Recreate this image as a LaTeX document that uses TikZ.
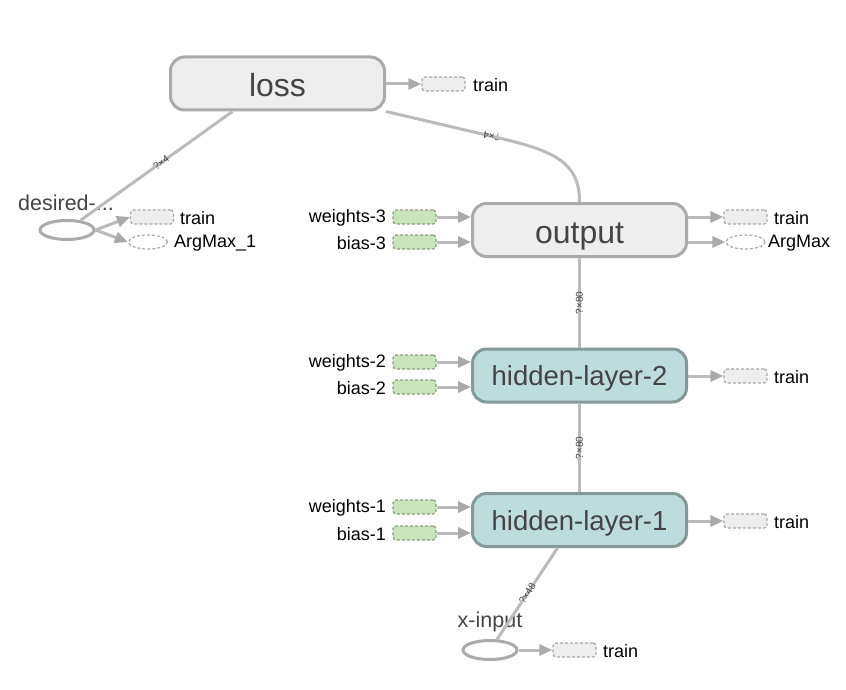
\documentclass[tikz,border=0pt]{standalone}
\usepackage{fontspec}
\setmainfont{Liberation Sans}
\usetikzlibrary{arrows.meta,shapes.geometric,calc}
\definecolor{boxfill}{HTML}{EEEEEE}
\definecolor{boxline}{HTML}{AAAAAA}
\definecolor{hlfill}{HTML}{BDDCDC}
\definecolor{hlline}{HTML}{859999}
\definecolor{greenfill}{HTML}{C9E4BA}
\definecolor{greenline}{HTML}{8C9C80}
\definecolor{dashgray}{HTML}{A8A8A8}
\definecolor{edgegray}{HTML}{BBBBBB}
\definecolor{tipgray}{HTML}{AAAAAA}
\definecolor{txt}{HTML}{444444}
\begin{document}
\begin{tikzpicture}[x=1pt,y=-1pt,
  opbox/.style={draw=boxline, fill=boxfill, line width=3pt, rounded corners=14pt,
    minimum width=214pt, minimum height=53pt, inner sep=0pt, text=txt,
    text height=29pt, text depth=2pt,
    font=\fontsize{32}{36}\selectfont},
  hlbox/.style={opbox, draw=hlline, fill=hlfill, text height=23pt, text depth=3pt,
    font=\fontsize{27.5}{31}\selectfont},
  smallbox/.style={draw=dashgray, dash pattern=on 3pt off 2pt, fill=boxfill,
    rounded corners=3pt, minimum width=43pt, minimum height=14pt, inner sep=0pt,
    line width=1.2pt},
  greenbox/.style={smallbox, fill=greenfill, draw=greenline},
  smallell/.style={ellipse, draw=dashgray, dash pattern=on 3pt off 2pt,
    minimum width=39pt, minimum height=14pt, inner sep=0pt, line width=1.2pt},
  placeholder/.style={ellipse, draw=boxline, line width=3pt, minimum width=54pt,
    minimum height=19pt, inner sep=0pt},
  lbl/.style={font=\fontsize{18}{21}\selectfont, text=black, inner sep=0pt},
  biglbl/.style={font=\fontsize{21.5}{24}\selectfont, text=txt, inner sep=0pt},
  edge/.style={draw=edgegray, line width=3pt},
  arr/.style={edge, -{Triangle[length=13pt,width=11pt,color=tipgray]}},
  elabel/.style={font=\fontsize{10}{11}\selectfont, text=txt, inner sep=0.5pt}
]
\useasboundingbox (0,0) rectangle (846,690);

% main operation nodes
\node[opbox] (loss) at (277.5,83.5) {loss};
\node[opbox] (output) at (579.5,230) {output};
\node[hlbox] (hl2) at (579.5,375.5) {hidden-layer-2};
\node[hlbox] (hl1) at (579.5,520) {hidden-layer-1};

% placeholders
\node[placeholder] (desired) at (67,230) {};
\node[biglbl] (desiredlbl) at (66,203) {desired-...};
\node[placeholder] (xin) at (490,650) {};
\node[biglbl] (xinlbl) at (490,622) {x-input};

% small auxiliary nodes
\node[smallbox] (ltrain) at (443.5,84) {};
\node[lbl, anchor=west] (ltrainlbl) at (473,85) {train};

\node[smallbox] (dtrain) at (152,217) {};
\node[lbl, anchor=west] (dtrainlbl) at (180,218) {train};
\node[smallell] (dargmax) at (148,242) {};
\node[lbl, anchor=west] (dargmaxlbl) at (174,243) {ArgMax\_1};

\node[smallbox] (otrain) at (745.5,217) {};
\node[lbl, anchor=west] (otrainlbl) at (774,218) {train};
\node[smallell] (oargmax) at (745.5,242) {};
\node[lbl, anchor=west] (oargmaxlbl) at (768,243) {ArgMax};

\node[greenbox] (w3) at (414.5,217) {};
\node[lbl, anchor=east] (w3lbl) at (386,218) {weights-3};
\node[greenbox] (b3) at (414.5,242) {};
\node[lbl, anchor=east] (b3lbl) at (386,243) {bias-3};

\node[greenbox] (w2) at (414.5,362) {};
\node[lbl, anchor=east] (w2lbl) at (386,363) {weights-2};
\node[greenbox] (b2) at (414.5,387) {};
\node[lbl, anchor=east] (b2lbl) at (386,388) {bias-2};
\node[smallbox] (h2train) at (745.5,376) {};
\node[lbl, anchor=west] (h2trainlbl) at (774,377) {train};

\node[greenbox] (w1) at (414.5,507) {};
\node[lbl, anchor=east] (w1lbl) at (386,508) {weights-1};
\node[greenbox] (b1) at (414.5,533) {};
\node[lbl, anchor=east] (b1lbl) at (386,534) {bias-1};
\node[smallbox] (h1train) at (745.5,521) {};
\node[lbl, anchor=west] (h1trainlbl) at (774,522) {train};

\node[smallbox] (xtrain) at (574.5,650) {};
\node[lbl, anchor=west] (xtrainlbl) at (603,651) {train};

% data edges
\draw[edge] ([xshift=-45pt]loss.south) -- (desired)
  node[elabel, pos=0.47, rotate=36] {?×4};
\coordinate (bend) at (495,137);
\draw[edge] (loss.south east) -- (bend)
  node[elabel, pos=0.97, rotate=167] {?×4};
\draw[edge] (bend) .. controls (550,150) and (580,160) .. (output.north);
\draw[edge] (output.south) -- (hl2.north)
  node[elabel, midway, rotate=90] {?×80};
\draw[edge] (hl2.south) -- (hl1.north)
  node[elabel, midway, rotate=90] {?×80};
\draw[edge] ([xshift=-22pt]hl1.south) -- (xin)
  node[elabel, pos=0.5, rotate=57] {?×48};

% control / auxiliary arrows
\draw[arr] (loss.east |- ltrain) -- (ltrain.west);
\draw[arr] (desired.east) -- (dtrain.west);
\draw[arr] (desired.east) -- (dargmax.west);
\draw[arr] (output.east |- otrain) -- (otrain.west);
\draw[arr] (output.east |- oargmax) -- (oargmax.west);
\draw[arr] (w3.east) -- (w3.east -| output.west);
\draw[arr] (b3.east) -- (b3.east -| output.west);
\draw[arr] (w2.east) -- (w2.east -| hl2.west);
\draw[arr] (b2.east) -- (b2.east -| hl2.west);
\draw[arr] (hl2.east |- h2train) -- (h2train.west);
\draw[arr] (w1.east) -- (w1.east -| hl1.west);
\draw[arr] (b1.east) -- (b1.east -| hl1.west);
\draw[arr] (hl1.east |- h1train) -- (h1train.west);
\draw[arr] (xin.east) -- (xtrain.west);
\end{tikzpicture}
\end{document}
